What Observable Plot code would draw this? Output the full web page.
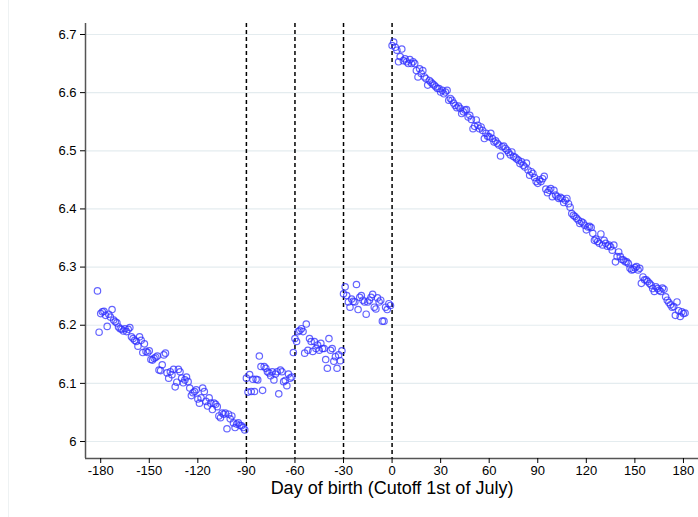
<!DOCTYPE html>
<html>
<head>
<meta charset="utf-8">
<script src="https://cdn.jsdelivr.net/npm/d3@7"></script>
<script src="https://cdn.jsdelivr.net/npm/@observablehq/plot@0.6"></script>
<style>
  html, body { margin: 0; padding: 0; background: #fff; }
  #wrap { position: relative; width: 698px; height: 517px; }
  #edge { position: absolute; left: 8px; top: 0; width: 1px; height: 517px; background: #eef2f3; }
</style>
</head>
<body>
<div id="wrap"><div id="edge"></div></div>
<script>
// Segment start days and daily values
const seg1Start = -182;
const seg1Values = [
  6.259,6.188,6.220,6.223,6.224,6.217,6.198,6.219,6.214,6.227,
  6.209,6.206,6.204,6.197,6.194,6.193,6.190,6.194,6.189,6.193,
  6.196,6.180,6.177,6.174,6.172,6.164,6.180,6.174,6.153,6.168,
  6.155,6.153,6.156,6.141,6.140,6.143,6.145,6.147,6.123,6.122,
  6.132,6.149,6.152,6.118,6.109,6.120,6.115,6.124,6.094,6.102,
  6.124,6.120,6.109,6.101,6.106,6.111,6.103,6.092,6.079,6.084,
  6.086,6.089,6.073,6.066,6.075,6.092,6.086,6.069,6.061,6.075,
  6.066,6.055,6.066,6.064,6.060,6.044,6.041,6.049,6.047,6.049,
  6.022,6.047,6.039,6.044,6.032,6.024,6.030,6.032,6.028,6.027,
  6.024,6.020
];
const seg2Start = -90;
const seg2Values = [
  6.109,6.085,6.115,6.086,6.107,6.086,6.107,6.106,6.147,6.129,
  6.088,6.129,6.126,6.120,6.118,6.113,6.120,6.106,6.116,6.120,
  6.082,6.123,6.120,6.103,6.105,6.096,6.116,6.109,6.111,6.153
];
const seg3Start = -60;
const seg3Values = [
  6.177,6.172,6.189,6.191,6.194,6.189,6.152,6.202,6.157,6.177,
  6.172,6.155,6.172,6.160,6.166,6.157,6.169,6.160,6.160,6.141,
  6.126,6.177,6.157,6.160,6.138,6.146,6.126,6.149,6.139,6.156
];
const seg4Start = -30;
const seg4Values = [
  6.254,6.266,6.251,6.240,6.231,6.245,6.241,6.240,6.270,6.227,
  6.248,6.251,6.243,6.240,6.219,6.240,6.243,6.248,6.253,6.231,
  6.228,6.247,6.240,6.243,6.207,6.207,6.231,6.227,6.237,6.234
];
const seg5Start = 0;
const seg5Values = [
  6.681,6.687,6.678,6.673,6.653,6.662,6.675,6.655,6.658,6.653,
  6.650,6.657,6.650,6.653,6.650,6.638,6.627,6.641,6.633,6.638,
  6.627,6.624,6.613,6.621,6.618,6.615,6.613,6.610,6.607,6.607,
  6.601,6.604,6.598,6.601,6.604,6.587,6.590,6.587,6.582,6.578,
  6.574,6.577,6.573,6.564,6.567,6.570,6.571,6.558,6.561,6.554,
  6.538,6.542,6.553,6.544,6.538,6.541,6.535,6.521,6.530,6.525,
  6.524,6.530,6.521,6.515,6.517,6.513,6.510,6.491,6.507,6.508,
  6.504,6.501,6.497,6.493,6.498,6.490,6.489,6.486,6.484,6.478,
  6.481,6.475,6.472,6.479,6.467,6.458,6.464,6.461,6.454,6.447,
  6.444,6.450,6.447,6.452,6.456,6.434,6.428,6.432,6.435,6.421,
  6.432,6.424,6.421,6.418,6.420,6.418,6.411,6.415,6.418,6.409,
  6.403,6.392,6.389,6.387,6.384,6.381,6.375,6.378,6.376,6.372,
  6.364,6.369,6.370,6.368,6.358,6.346,6.348,6.344,6.341,6.357,
  6.338,6.346,6.341,6.336,6.338,6.335,6.329,6.338,6.309,6.318,
  6.326,6.318,6.313,6.312,6.309,6.309,6.306,6.298,6.295,6.296,
  6.299,6.301,6.295,6.298,6.272,6.283,6.278,6.278,6.275,6.272,
  6.269,6.263,6.258,6.266,6.263,6.260,6.258,6.264,6.262,6.249,
  6.243,6.239,6.235,6.231,6.232,6.217,6.240,6.225,6.215,6.223,
  6.220,6.221
];
const cutoffs = [-90, -60, -30, 0];
const xTicks = [-180, -150, -120, -90, -60, -30, 0, 30, 60, 90, 120, 150, 180];
const yTicks = [6, 6.1, 6.2, 6.3, 6.4, 6.5, 6.6, 6.7];
const xTitle = "Day of birth (Cutoff 1st of July)";

const segments = [
  [seg1Start, seg1Values], [seg2Start, seg2Values], [seg3Start, seg3Values],
  [seg4Start, seg4Values], [seg5Start, seg5Values]
];
const points = segments.flatMap(([s, vals]) => vals.map((v, i) => ({day: s + i, value: v})));

const xDomain = [-189.4, 189.3];
const yDomain = [5.9708, 6.7189];

const chart = Plot.plot({
  width: 698,
  height: 517,
  marginLeft: 85,
  marginRight: 0,
  marginTop: 23,
  marginBottom: 59,
  style: {fontFamily: "'Liberation Sans', Arial, sans-serif", fontSize: "13px", color: "#000", background: "transparent"},
  x: {domain: xDomain},
  y: {domain: yDomain},
  marks: [
    Plot.gridY(yTicks, {stroke: "#e4ecef", strokeOpacity: 1, strokeWidth: 1.2}),
    Plot.ruleX(cutoffs, {stroke: "#000", strokeWidth: 1.5, strokeDasharray: "4,3"}),
    Plot.dot(points, {x: "day", y: "value", r: 3.2, stroke: "#3030ff", strokeOpacity: 0.75, strokeWidth: 1.2, fill: "none"}),
    Plot.ruleX([xDomain[0]], {stroke: "#555", strokeWidth: 1.5}),
    Plot.ruleY([yDomain[0]], {stroke: "#555", strokeWidth: 1.5}),
    Plot.axisY(yTicks, {tickSize: 5, tickPadding: 4, tickFormat: d => String(d), label: null, stroke: "#000", fontSize: 13}),
    Plot.axisX(xTicks, {tickSize: 5, tickPadding: 2, tickFormat: d => String(d), label: null, stroke: "#000", fontSize: 13}),
    Plot.text([xTitle], {frameAnchor: "bottom", dy: 35, fontSize: 18, fill: "#000"})
  ]
});
document.getElementById("wrap").appendChild(chart);
chart.style.position = "absolute";
chart.style.left = "0";
chart.style.top = "0";
</script>
</body>
</html>
